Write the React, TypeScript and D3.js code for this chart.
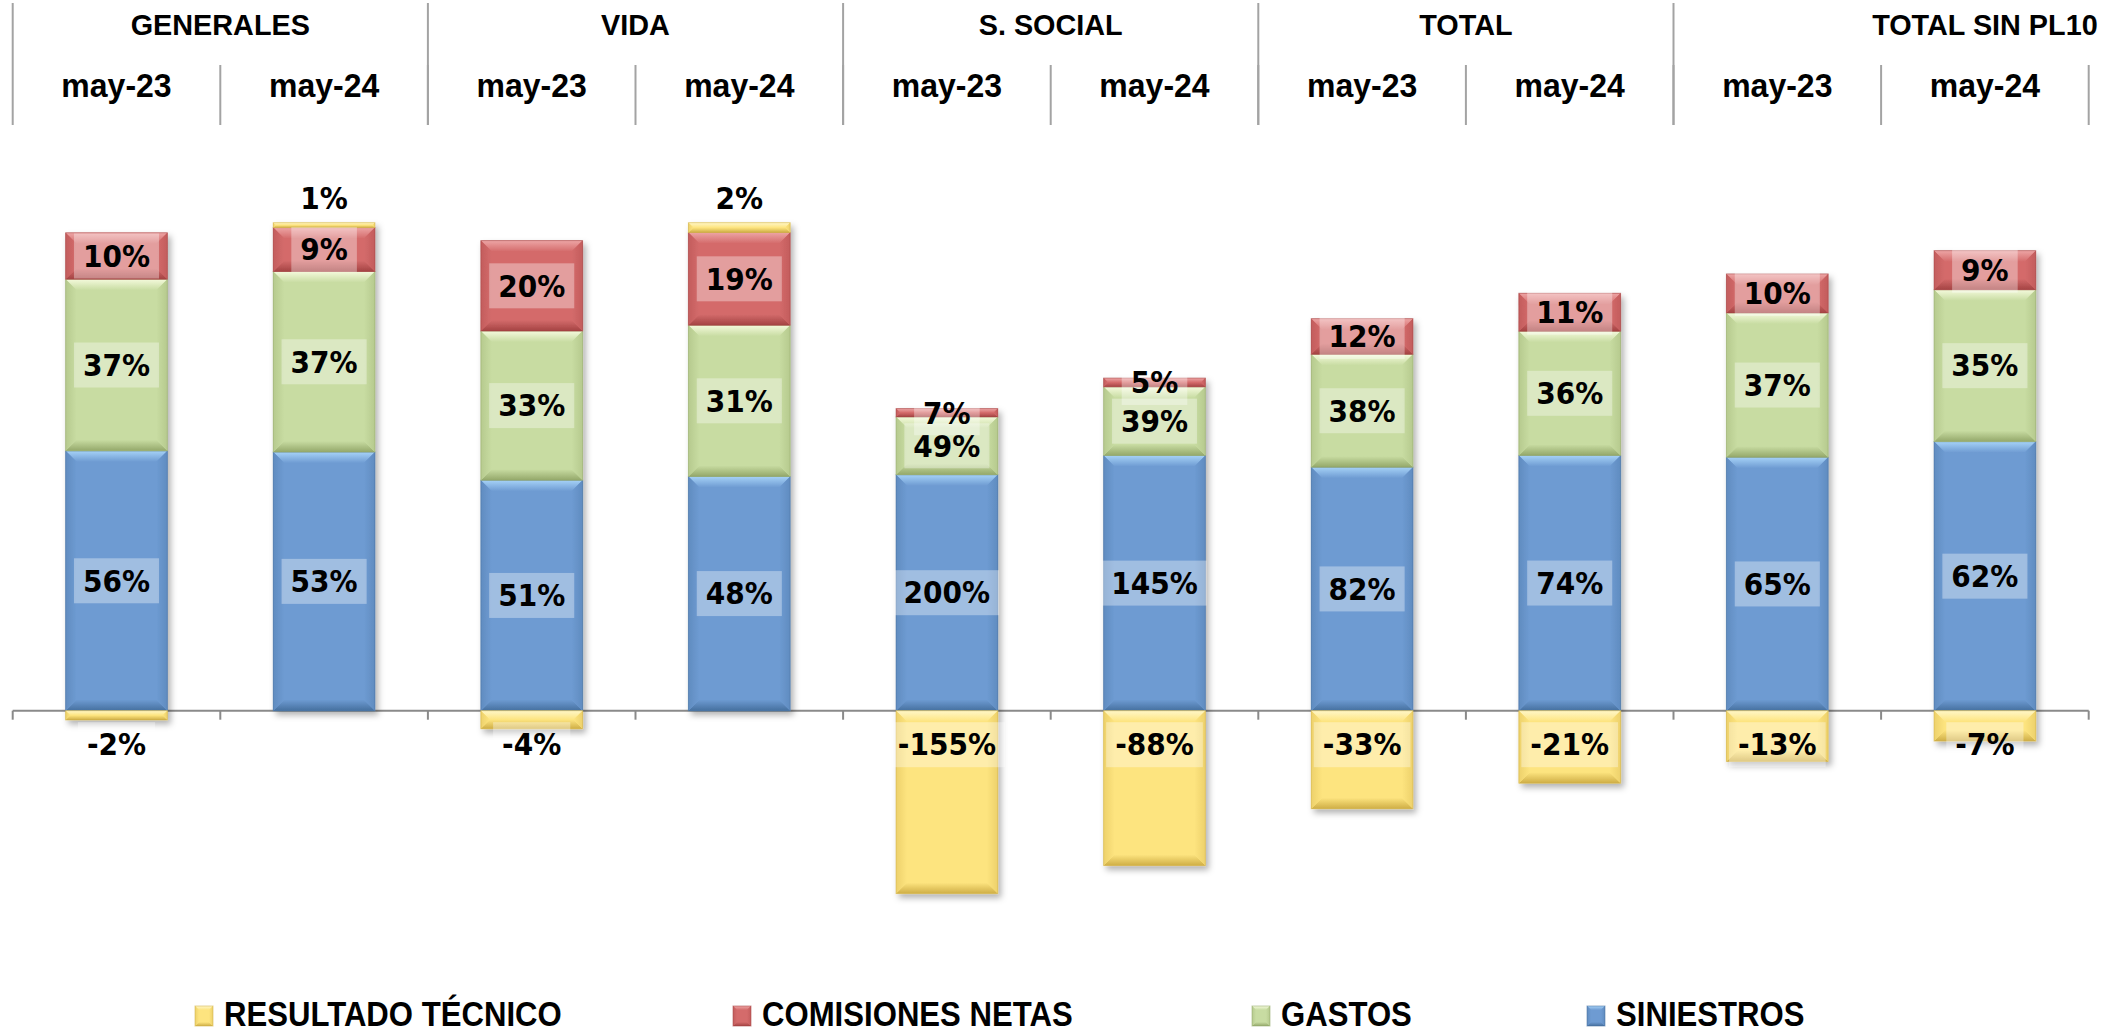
import React, { useEffect, useRef } from 'react';
import * as d3 from 'd3';

const grupos = ['GENERALES', 'VIDA', 'S. SOCIAL', 'TOTAL', 'TOTAL SIN PL10'];
const columnasPorGrupo = [2, 2, 2, 2, 3];
const periodos = ['may-23', 'may-24', 'may-23', 'may-24', 'may-23', 'may-24', 'may-23', 'may-24', 'may-23', 'may-24'];

// ratios sobre primas (%)
const siniestros = [56, 53, 51, 48, 200, 145, 82, 74, 65, 62];
const gastos = [37, 37, 33, 31, 49, 39, 38, 36, 37, 35];
const comisiones = [10, 9, 20, 19, 7, 5, 12, 11, 10, 9];
const resultado = [-2, 1, -4, 2, -155, -88, -33, -21, -13, -7];
// volumen de primas de cada columna (da la altura de la barra)
const primas = [464, 488, 452, 488, 118, 176, 297, 345, 390, 434];

interface Serie {
  key: string;
  nombre: string;
  valores: number[];
  main: string;
  light: string;
  dark: string;
}

const series: Serie[] = [
  { key: 'sin', nombre: 'SINIESTROS', valores: siniestros, main: '#6e9bd2', light: '#a6d2f7', dark: '#46709f' },
  { key: 'gas', nombre: 'GASTOS', valores: gastos, main: '#c8dca2', light: '#f4fadc', dark: '#94a86a' },
  { key: 'com', nombre: 'COMISIONES NETAS', valores: comisiones, main: '#d46b6b', light: '#eda5a5', dark: '#a44343' },
  { key: 'res', nombre: 'RESULTADO TÉCNICO', valores: resultado, main: '#fde47f', light: '#fff7c8', dark: '#cfae46' },
];

const W = 2108;
const H = 1034;
const leyendaX = [195, 733, 1252, 1587];
const fuenteCab = '"Liberation Sans", Arial, sans-serif';

const App: React.FC = () => {
  const svgRef = useRef<SVGSVGElement | null>(null);

  useEffect(() => {
    const svgEl = svgRef.current;
    if (!svgEl) return;
    const svg = d3.select(svgEl);
    svg.selectAll('*').remove();

    const defs = svg.append('defs');
    const filtro = defs.append('filter').attr('id', 'sombra')
      .attr('x', '-20%').attr('y', '-10%').attr('width', '150%').attr('height', '130%');
    filtro.append('feDropShadow').attr('dx', 3).attr('dy', 4).attr('stdDeviation', 3)
      .attr('flood-color', '#000').attr('flood-opacity', 0.3);

    const grad = (id: string, dir: 'v' | 'h', c0: string, c1: string) => {
      const g = defs.append('linearGradient').attr('id', id)
        .attr('x1', 0).attr('y1', 0)
        .attr('x2', dir === 'h' ? 1 : 0).attr('y2', dir === 'v' ? 1 : 0);
      g.append('stop').attr('offset', '0%').attr('stop-color', c0);
      g.append('stop').attr('offset', '100%').attr('stop-color', c1);
    };
    series.forEach((s) => {
      const side = d3.interpolateRgb(s.main, s.dark)(0.35);
      grad(`${s.key}-top`, 'v', s.light, s.main);
      grad(`${s.key}-bot`, 'v', s.main, s.dark);
      grad(`${s.key}-izq`, 'h', side, s.main);
      grad(`${s.key}-der`, 'h', s.main, side);
    });

    const x = d3.scaleBand<number>().domain(d3.range(periodos.length))
      .range([12.7, 2088.7]).paddingInner(0.51).paddingOuter(0.255);
    const y = d3.scaleLinear().domain([-300, 700]).range([1010.7, 10.7]);
    const step = x.step();
    const r0 = x.range()[0];
    const borde = (i: number) => r0 + i * step;

    // bloque con bisel
    const bloque = (g: d3.Selection<SVGGElement, unknown, null, undefined>, s: Serie,
      x0: number, x1: number, t: number, b: number, bev: number) => {
      const h = b - t;
      const w = x1 - x0;
      const k = Math.max(0, Math.min(bev, h / 2, w / 2));
      g.append('rect').attr('x', x0).attr('y', t).attr('width', w).attr('height', h).attr('fill', s.main);
      const poly = (pts: number[][], fill: string) =>
        g.append('polygon').attr('points', pts.map((p) => p.join(',')).join(' ')).attr('fill', fill);
      poly([[x0, t], [x1, t], [x1 - k, t + k], [x0 + k, t + k]], `url(#${s.key}-top)`);
      poly([[x0, b], [x1, b], [x1 - k, b - k], [x0 + k, b - k]], `url(#${s.key}-bot)`);
      poly([[x0, t], [x0 + k, t + k], [x0 + k, b - k], [x0, b]], `url(#${s.key}-izq)`);
      poly([[x1, t], [x1 - k, t + k], [x1 - k, b - k], [x1, b]], `url(#${s.key}-der)`);
      g.append('rect').attr('x', x0).attr('y', t).attr('width', w).attr('height', h)
        .attr('fill', 'none').attr('stroke', s.dark).attr('stroke-opacity', 0.55).attr('stroke-width', 1);
    };

    // cabecera
    const cab = svg.append('g');
    let inicio = 0;
    grupos.forEach((nombre, gi) => {
      const span = columnasPorGrupo[gi];
      const xl = borde(inicio);
      cab.append('line').attr('x1', xl).attr('x2', xl).attr('y1', 3).attr('y2', 125)
        .attr('stroke', '#a3a3a3').attr('stroke-width', 2);
      cab.append('text')
        .attr('transform', `translate(${xl + (span * step) / 2},34.5) scale(0.96,1)`)
        .attr('text-anchor', 'middle')
        .attr('font-family', fuenteCab)
        .attr('font-weight', 'bold').attr('font-size', 30).attr('fill', '#000')
        .text(nombre);
      for (let c = 1; c <= span; c++) {
        const idx = inicio + c;
        if (idx <= periodos.length) {
          cab.append('line').attr('x1', borde(idx)).attr('x2', borde(idx)).attr('y1', 65).attr('y2', 125)
            .attr('stroke', '#a3a3a3').attr('stroke-width', 2);
        }
      }
      inicio += span;
    });
    periodos.forEach((p, i) => {
      cab.append('text')
        .attr('transform', `translate(${(x(i) as number) + x.bandwidth() / 2},97) scale(0.97,1)`)
        .attr('text-anchor', 'middle')
        .attr('font-family', fuenteCab)
        .attr('font-weight', 'bold').attr('font-size', 33).attr('fill', '#000')
        .text(p);
    });

    // eje
    const y0 = y(0);
    const eje = svg.append('g');
    eje.append('line').attr('x1', borde(0)).attr('x2', borde(periodos.length)).attr('y1', y0).attr('y2', y0)
      .attr('stroke', '#8a8a8a').attr('stroke-width', 2);
    d3.range(periodos.length + 1).forEach((i) => {
      eje.append('line').attr('x1', borde(i)).attr('x2', borde(i)).attr('y1', y0).attr('y2', y0 + 9)
        .attr('stroke', '#8a8a8a').attr('stroke-width', 2);
    });

    // barras apiladas
    const etiquetas: { cx: number; cy: number; txt: string }[] = [];
    periodos.forEach((_, i) => {
      const x0 = x(i) as number;
      const x1 = x0 + x.bandwidth();
      let pos = 0;
      let neg = 0;
      const col = svg.append('g').attr('filter', 'url(#sombra)');
      series.forEach((s) => {
        const pct = s.valores[i];
        const v = (pct * primas[i]) / 100;
        let a: number;
        let b: number;
        if (v >= 0) { a = pos; b = pos + v; pos = b; } else { a = neg + v; b = neg; neg = a; }
        bloque(col, s, x0, x1, y(b), y(a), 11);
        let cy = (y(a) + y(b)) / 2;
        if (s.key === 'res') cy = pct < 0 ? y0 + 34 : y(b) - 24;
        etiquetas.push({ cx: (x0 + x1) / 2, cy, txt: `${pct}%` });
      });
    });

    // etiquetas de datos
    const lab = svg.append('g');
    const sx = 0.95;
    etiquetas.forEach((e) => {
      const box = lab.append('rect').attr('fill', '#fff').attr('fill-opacity', 0.35);
      const t = lab.append('text')
        .attr('transform', `translate(${e.cx},${e.cy}) scale(${sx},1)`)
        .attr('text-anchor', 'middle').attr('dy', '0.365em')
        .attr('font-family', '"DejaVu Sans", Verdana, sans-serif')
        .attr('font-weight', 'bold').attr('font-size', 29.5).attr('fill', '#000')
        .text(e.txt);
      const w = (t.node() as SVGTextElement).getComputedTextLength() * sx + 18;
      box.attr('x', e.cx - w / 2).attr('y', e.cy - 22.5).attr('width', w).attr('height', 45);
    });

    // leyenda
    const ley = svg.append('g');
    series.slice().reverse().forEach((s, k) => {
      const lx = leyendaX[k];
      const g = ley.append('g');
      bloque(g, s, lx, lx + 18, 1006, 1026, 4);
      ley.append('text')
        .attr('transform', `translate(${lx + 29},1026) scale(0.865,1)`)
        .attr('font-family', fuenteCab)
        .attr('font-weight', 'bold').attr('font-size', 36).attr('fill', '#000')
        .text(s.nombre);
    });
  }, []);

  return (
    <div style={{ position: 'absolute', left: 0, top: 0, width: W, height: H, overflow: 'hidden', background: '#fff' }}>
      <svg ref={svgRef} width={W} height={H} style={{ display: 'block' }}></svg>
    </div>
  );
};

export default App;
